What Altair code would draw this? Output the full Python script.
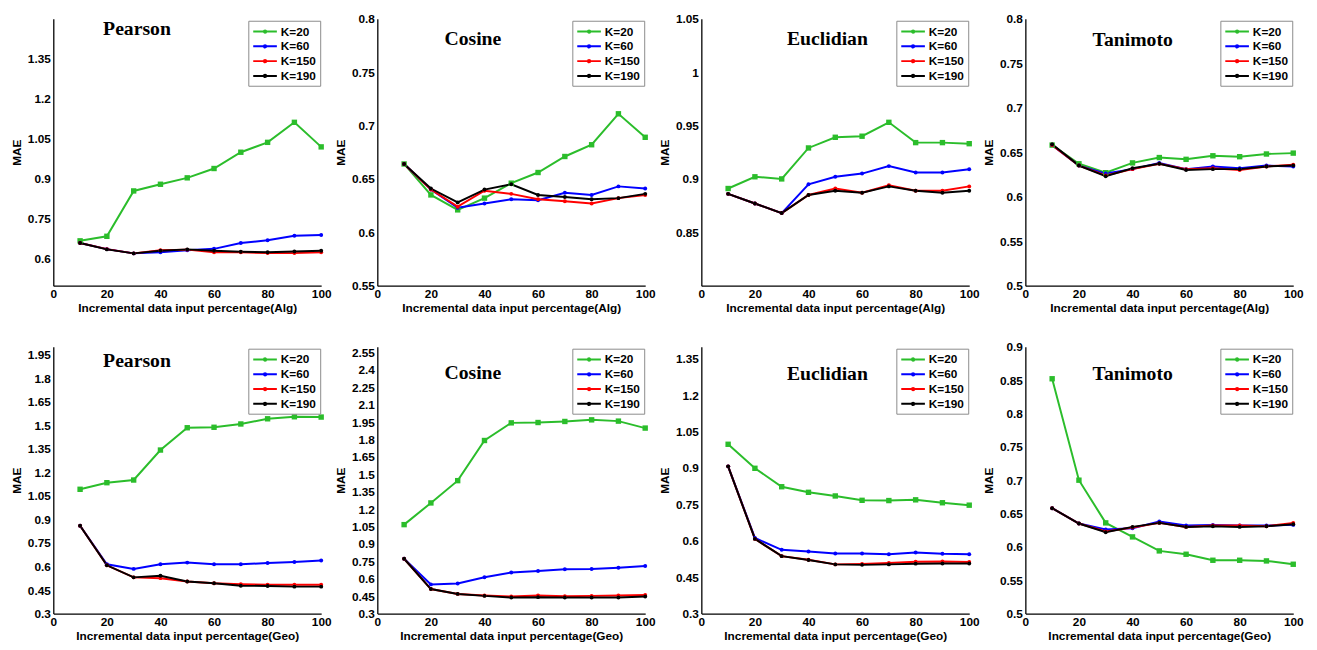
import altair as alt
import pandas as pd

# ---------------- data ----------------
X = [10, 20, 30, 40, 50, 60, 70, 80, 90, 100]
X_TICKS = [0, 20, 40, 60, 80, 100]
SERIES = ["K=20", "K=60", "K=150", "K=190"]
COLORS = ["#2bbd2b", "#0000ff", "#ff0000", "#000000"]

# Row 1 : Alg
pearson_alg_k20 = [0.668, 0.685, 0.855, 0.880, 0.904, 0.939, 1.000, 1.037, 1.112, 1.020]
pearson_alg_k60 = [0.660, 0.637, 0.621, 0.625, 0.633, 0.638, 0.660, 0.670, 0.687, 0.690]
pearson_alg_k150 = [0.660, 0.637, 0.621, 0.633, 0.635, 0.625, 0.625, 0.622, 0.622, 0.625]
pearson_alg_k190 = [0.660, 0.636, 0.621, 0.631, 0.636, 0.631, 0.627, 0.625, 0.628, 0.631]

cosine_alg_k20 = [0.664, 0.635, 0.621, 0.632, 0.646, 0.656, 0.671, 0.682, 0.711, 0.689]
cosine_alg_k60 = [0.664, 0.640, 0.623, 0.627, 0.631, 0.630, 0.637, 0.635, 0.643, 0.641]
cosine_alg_k150 = [0.664, 0.640, 0.624, 0.639, 0.636, 0.631, 0.629, 0.627, 0.632, 0.635]
cosine_alg_k190 = [0.664, 0.641, 0.628, 0.640, 0.645, 0.635, 0.633, 0.631, 0.632, 0.636]

eucl_alg_k20 = [0.891, 0.902, 0.900, 0.929, 0.939, 0.940, 0.953, 0.934, 0.934, 0.933]
eucl_alg_k60 = [0.886, 0.877, 0.868, 0.895, 0.902, 0.905, 0.912, 0.906, 0.906, 0.909]
eucl_alg_k150 = [0.886, 0.877, 0.868, 0.885, 0.891, 0.887, 0.894, 0.889, 0.889, 0.893]
eucl_alg_k190 = [0.886, 0.877, 0.868, 0.885, 0.889, 0.887, 0.893, 0.889, 0.887, 0.889]

tani_alg_k20 = [0.658, 0.637, 0.627, 0.638, 0.644, 0.642, 0.646, 0.645, 0.648, 0.649]
tani_alg_k60 = [0.658, 0.635, 0.626, 0.631, 0.638, 0.631, 0.634, 0.632, 0.635, 0.634]
tani_alg_k150 = [0.658, 0.635, 0.624, 0.631, 0.637, 0.631, 0.632, 0.630, 0.634, 0.636]
tani_alg_k190 = [0.659, 0.635, 0.623, 0.632, 0.637, 0.630, 0.631, 0.631, 0.634, 0.635]

# Row 2 : Geo
pearson_geo_k20 = [1.092, 1.134, 1.151, 1.342, 1.484, 1.487, 1.508, 1.541, 1.554, 1.552]
pearson_geo_k60 = [0.860, 0.614, 0.585, 0.614, 0.625, 0.614, 0.614, 0.623, 0.629, 0.638]
pearson_geo_k150 = [0.860, 0.608, 0.531, 0.526, 0.505, 0.493, 0.487, 0.484, 0.484, 0.484]
pearson_geo_k190 = [0.860, 0.608, 0.531, 0.541, 0.505, 0.493, 0.478, 0.476, 0.472, 0.472]

cosine_geo_k20 = [1.067, 1.254, 1.446, 1.792, 1.944, 1.947, 1.956, 1.970, 1.959, 1.899]
cosine_geo_k60 = [0.773, 0.552, 0.560, 0.614, 0.654, 0.668, 0.682, 0.685, 0.696, 0.710]
cosine_geo_k150 = [0.773, 0.512, 0.470, 0.456, 0.447, 0.456, 0.450, 0.453, 0.456, 0.461]
cosine_geo_k190 = [0.773, 0.512, 0.470, 0.453, 0.439, 0.442, 0.439, 0.439, 0.439, 0.447]

eucl_geo_k20 = [0.998, 0.899, 0.823, 0.800, 0.785, 0.767, 0.766, 0.769, 0.757, 0.747]
eucl_geo_k60 = [0.907, 0.612, 0.563, 0.556, 0.548, 0.548, 0.545, 0.552, 0.547, 0.545]
eucl_geo_k150 = [0.907, 0.608, 0.537, 0.522, 0.503, 0.505, 0.509, 0.514, 0.515, 0.513]
eucl_geo_k190 = [0.907, 0.608, 0.537, 0.521, 0.503, 0.501, 0.503, 0.506, 0.507, 0.507]

tani_geo_k20 = [0.852, 0.700, 0.636, 0.615, 0.594, 0.589, 0.580, 0.580, 0.579, 0.574]
tani_geo_k60 = [0.658, 0.635, 0.626, 0.628, 0.638, 0.632, 0.633, 0.632, 0.632, 0.633]
tani_geo_k150 = [0.658, 0.635, 0.623, 0.629, 0.636, 0.630, 0.632, 0.632, 0.631, 0.636]
tani_geo_k190 = [0.658, 0.635, 0.622, 0.630, 0.636, 0.630, 0.631, 0.630, 0.631, 0.634]

# y tick labels per panel
ticks_pearson_alg = [0.6, 0.75, 0.9, 1.05, 1.2, 1.35]
ticks_cosine_alg = [0.55, 0.6, 0.65, 0.7, 0.75, 0.8]
ticks_eucl_alg = [0.85, 0.9, 0.95, 1.0, 1.05]
ticks_tani_alg = [0.5, 0.55, 0.6, 0.65, 0.7, 0.75, 0.8]
ticks_pearson_geo = [0.3, 0.45, 0.6, 0.75, 0.9, 1.05, 1.2, 1.35, 1.5, 1.65, 1.8, 1.95]
ticks_cosine_geo = [0.3, 0.45, 0.6, 0.75, 0.9, 1.05, 1.2, 1.35, 1.5, 1.65, 1.8, 1.95,
                    2.1, 2.25, 2.4, 2.55]
ticks_eucl_geo = [0.3, 0.45, 0.6, 0.75, 0.9, 1.05, 1.2, 1.35]
ticks_tani_geo = [0.5, 0.55, 0.6, 0.65, 0.7, 0.75, 0.8, 0.85, 0.9]

XT_ALG = "Incremental data input percentage(Alg)"
XT_GEO = "Incremental data input percentage(Geo)"

W = 272
H = 271
# legend glyph: a short line with a dot in its middle
LEG_PATH = "M-1,0L3,0M0.8,0a0.2,0.2 0 1,0 0.4,0a0.2,0.2 0 1,0 -0.4,0"


def panel(title, xtitle, series, ydomain, yticks, tx, ty):
    rows = []
    for s, vals in zip(SERIES, series):
        for xv, v in zip(X, vals):
            rows.append({"x": xv, "MAE": v, "K": s})
    df = pd.DataFrame(rows)
    xenc = alt.X("x:Q", scale=alt.Scale(domain=[0, 100], nice=False),
                 axis=alt.Axis(values=X_TICKS, title=xtitle, format="d"))
    yenc = alt.Y("MAE:Q", scale=alt.Scale(domain=ydomain, nice=False, zero=False),
                 axis=alt.Axis(values=yticks, title="MAE", format=".3~g"))
    cscale = alt.Scale(domain=SERIES, range=COLORS)
    base = alt.Chart(df)
    lines = base.mark_line(strokeWidth=2).encode(
        x=xenc, y=yenc,
        color=alt.Color("K:N", scale=cscale, sort=SERIES, legend=alt.Legend(
            title=None, orient="none", legendX=W - 74, legendY=2,
            direction="vertical",
            strokeColor="#8a8a8a", fillColor="white", padding=4,
            labelFont="Liberation Sans", labelFontWeight="bold", labelFontSize=12,
            labelColor="black", labelOffset=15,
            symbolType=LEG_PATH, symbolSize=144, symbolStrokeWidth=2,
            rowPadding=2)),
    )
    sq = base.mark_point(filled=True, shape="square", size=30, opacity=1).encode(
        x=xenc, y=yenc,
        color=alt.Color("K:N", scale=cscale, legend=None),
    ).transform_filter(alt.datum.K == "K=20")
    dots = base.mark_point(filled=True, shape="circle", size=16, opacity=1).encode(
        x=xenc, y=yenc,
        color=alt.Color("K:N", scale=cscale, legend=None),
    ).transform_filter(alt.datum.K != "K=20")
    ttl = alt.Chart(pd.DataFrame({"t": [title]})).mark_text(
        font="Liberation Serif", fontWeight="bold", fontSize=20, color="black",
        align="center", baseline="middle",
    ).encode(text="t:N", x=alt.value(tx), y=alt.value(ty))
    return alt.layer(lines, sq, dots, ttl).properties(width=W, height=H)


panels = [
    panel("Pearson", XT_ALG, [pearson_alg_k20, pearson_alg_k60, pearson_alg_k150, pearson_alg_k190],
          [0.5, 1.5], ticks_pearson_alg, 85, 10),
    panel("Cosine", XT_ALG, [cosine_alg_k20, cosine_alg_k60, cosine_alg_k150, cosine_alg_k190],
          [0.55, 0.8], ticks_cosine_alg, 97, 21),
    panel("Euclidian", XT_ALG, [eucl_alg_k20, eucl_alg_k60, eucl_alg_k150, eucl_alg_k190],
          [0.8, 1.05], ticks_eucl_alg, 128, 21),
    panel("Tanimoto", XT_ALG, [tani_alg_k20, tani_alg_k60, tani_alg_k150, tani_alg_k190],
          [0.5, 0.8], ticks_tani_alg, 109, 22),
    panel("Pearson", XT_GEO, [pearson_geo_k20, pearson_geo_k60, pearson_geo_k150, pearson_geo_k190],
          [0.3, 2.0], ticks_pearson_geo, 85, 15),
    panel("Cosine", XT_GEO, [cosine_geo_k20, cosine_geo_k60, cosine_geo_k150, cosine_geo_k190],
          [0.3, 2.6], ticks_cosine_geo, 97, 27),
    panel("Euclidian", XT_GEO, [eucl_geo_k20, eucl_geo_k60, eucl_geo_k150, eucl_geo_k190],
          [0.3, 1.4], ticks_eucl_geo, 128, 28),
    panel("Tanimoto", XT_GEO, [tani_geo_k20, tani_geo_k60, tani_geo_k150, tani_geo_k190],
          [0.5, 0.9], ticks_tani_geo, 109, 28),
]

chart = alt.concat(
    *panels, columns=4, bounds="flush",
    spacing=alt.RowColnumber(row=62, column=57),
).resolve_scale(
    x="independent", y="independent", color="independent"
).resolve_legend(
    color="independent"
).properties(
    padding={"left": 2, "top": 0, "right": 5, "bottom": 5}
).configure_view(
    stroke=None
).configure_axis(
    labelFont="Liberation Sans", labelFontWeight="bold", labelFontSize=12,
    labelColor="black", titleFont="Liberation Sans", titleFontWeight="bold",
    titleFontSize=12, titleColor="black", domainColor="black", domainWidth=1.3,
    grid=False, ticks=False, labelFlush=False, labelOverlap=False,
    labelPadding=3, titlePadding=3,
).configure_axisY(
    titlePadding=4,
)

chart.save("out.html", embed_options={"renderer": "svg", "actions": False})
